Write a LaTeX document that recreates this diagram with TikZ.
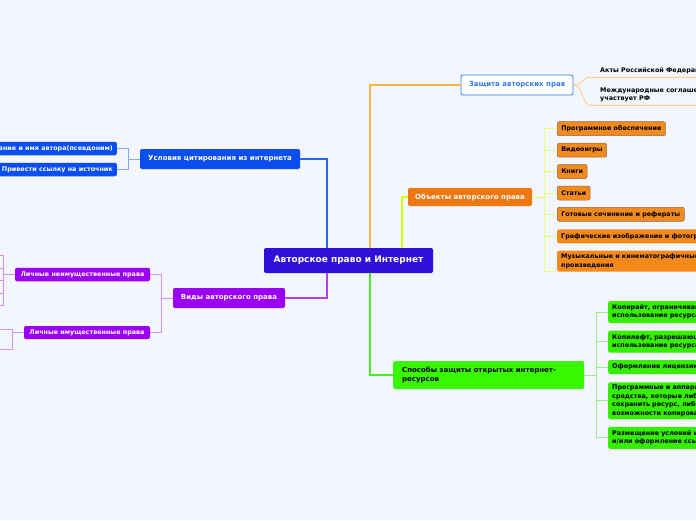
\documentclass[tikz,border=0pt]{standalone}
\usepackage{fontspec}
\setmainfont{DejaVu Sans}

\definecolor{bgc}{HTML}{F3F6FE}
\definecolor{rootc}{HTML}{3010D8}
\definecolor{bluec}{HTML}{0B4EEF}
\definecolor{blueln}{HTML}{2A66F5}
\definecolor{bluelt}{HTML}{8AA8F8}
\definecolor{protc}{HTML}{2F7BEA}
\definecolor{orln}{HTML}{FFB347}
\definecolor{orlt}{HTML}{FFCF8A}
\definecolor{objc}{HTML}{EE7711}
\definecolor{objlf}{HTML}{F28A1E}
\definecolor{objbd}{HTML}{8C6A48}
\definecolor{ygln}{HTML}{D4FF00}
\definecolor{yglt}{HTML}{E6FF77}
\definecolor{grln}{HTML}{44EE22}
\definecolor{grlt}{HTML}{99F088}
\definecolor{spc}{HTML}{38F800}
\definecolor{splf}{HTML}{35EE00}
\definecolor{purc}{HTML}{9A00F2}
\definecolor{purln}{HTML}{B040F0}
\definecolor{purlt}{HTML}{D090FF}

\begin{document}
\begin{tikzpicture}[x=1pt, y=-1pt,
  txt/.style={font=\bfseries\fontsize{6.4}{8.4}\selectfont},
  big/.style={font=\bfseries\fontsize{7}{8.6}\selectfont},
  topic/.style={big, rounded corners=2pt, inner sep=0pt},
  leaf/.style={txt, rounded corners=2pt, anchor=west, inner xsep=4pt, inner ysep=0pt,
    minimum height=14pt, align=left},
  trunk/.style={line width=1.8pt},
  twig/.style={line width=0.9pt}]
\useasboundingbox (0,0) rectangle (696,520);
\fill[bgc] (0,0) rectangle (696,520);
\clip (0,0) rectangle (696,520);

\node[topic, fill=rootc, text=white, font=\bfseries\fontsize{9}{10}\selectfont,
  minimum width=169pt, minimum height=25pt] (root) at (348.5,260.5) {Авторское право и Интернет};

% citing
\node[topic, fill=bluec, text=white, minimum width=160pt, minimum height=20pt] (cite) at (220,159) {Условия цитирования из интернета};
\node[leaf, anchor=east, fill=bluec, text=white, minimum height=13.5pt] (cite1) at (117,148.5) {Название и имя автора(псевдоним)};
\node[leaf, anchor=east, fill=bluec, text=white, minimum height=13.5pt] (cite2) at (117,169.5) {Привести ссылку на источник};

% protection
\node[topic, fill=white, draw=protc, line width=0.8pt, text=protc, minimum width=112pt, minimum height=20pt] (prot) at (517,85) {Защита авторских прав};
\node[txt, anchor=west, inner xsep=10pt, inner ysep=3pt] (act) at (590,71) {Акты Российской Федерации};
\node[txt, anchor=west, inner xsep=10pt, inner ysep=3pt, align=left] (intl) at (590,95) {Международные соглашения, в которых\\участвует РФ};

% objects
\node[topic, fill=objc, text=white, minimum width=124pt, minimum height=18pt] (obj) at (470,197) {Объекты авторского права};
\node[leaf, fill=objlf, draw=objbd, line width=0.5pt] (o1) at (557,128.7) {Программное обеспечение};
\node[leaf, fill=objlf, draw=objbd, line width=0.5pt] (o2) at (557,150.2) {Видеоигры};
\node[leaf, fill=objlf, draw=objbd, line width=0.5pt] (o3) at (557,171.5) {Книги};
\node[leaf, fill=objlf, draw=objbd, line width=0.5pt] (o4) at (557,193) {Статьи};
\node[leaf, fill=objlf, draw=objbd, line width=0.5pt] (o5) at (557,214.3) {Готовые сочинение и рефераты};
\node[leaf, fill=objlf!90!orange, text width=200pt] (o6) at (557,236.3) {Графические изображение и фотографии};
\node[leaf, fill=objlf!90!orange, text width=200pt, minimum height=21pt] (o7) at (557,261.2) {Музыкальные и кинематографичные\\произведения};

% ways
\node[topic, fill=spc, anchor=west, inner xsep=9pt, text width=173pt, align=left, minimum height=28pt] (sp) at (393,375) {Способы защиты открытых интернет-\\ресурсов};
\node[leaf, fill=splf, text width=200pt, minimum height=22pt] (s1) at (608,312) {Копирайт, ограничивающий\\использование ресурса};
\node[leaf, fill=splf, text width=200pt, minimum height=22pt] (s2) at (608,341.7) {Копилефт, разрешающий\\использование ресурса};
\node[leaf, fill=splf, text width=200pt] (s3) at (608,367) {Оформление лицензии};
\node[leaf, fill=splf, text width=200pt, minimum height=37pt] (s4) at (608,400.8) {Программные и аппаратные\\средства, которые либо не позволяют\\сохранить ресурс, либо лишают\\возможности копирования};
\node[leaf, fill=splf, text width=200pt, minimum height=22pt] (s5) at (608,437.8) {Размещение условий использования\\и/или оформление ссылки};

% kinds
\node[topic, fill=purc, text=white, minimum width=112pt, minimum height=20pt] (vidy) at (229,298) {Виды авторского права};
\node[topic, txt, fill=purc, text=white, minimum width=135pt, minimum height=13.5pt] (neim) at (82.5,274.5) {Личные неимущественные права};
\node[topic, txt, fill=purc, text=white, minimum width=126pt, minimum height=13pt] (imus) at (87,332.5) {Личные имущественные права};
\foreach \k/\y in {1/255,2/268,3/280,4/293,5/305}
  \coordinate (n\k) at (-2,\y);
\coordinate (m1) at (-2,329);
\coordinate (m2) at (-2,349);

% trunk lines
\draw[trunk, blueln] (cite.east) -| ([xshift=-21.5pt]root.north);
\draw[trunk, orln] (prot.west) -| ([xshift=21.5pt]root.north);
\draw[trunk, ygln] (obj.west) -| ([xshift=53.5pt]root.north);
\draw[trunk, grln] (sp.west) -| ([xshift=21.5pt]root.south);
\draw[trunk, purln] (vidy.east) -| ([xshift=-21.5pt]root.south);

% twigs
\foreach \c in {cite1,cite2}
  \draw[twig, bluelt] (cite.west) -- ++(-11,0) |- (\c.east);
\draw[twig, orlt] (prot.east) .. controls +(10,0) and +(-8,0) .. (act.south west) -- (act.south east);
\draw[twig, orlt] (prot.east) .. controls +(10,0) and +(-8,0) .. (intl.south west) -- (intl.south east);
\foreach \c in {o1,o2,o3,o4,o5,o6}
  \draw[twig, yglt] (obj.east) -- ++(12,0) |- (\c.west);
\draw[twig, yglt] (obj.east) -- ++(12,0) |- (o7.south west);
\foreach \c in {s1,s2,s3,s4,s5}
  \draw[twig, grlt] (sp.east) -- ++(12,0) |- (\c.west);
\foreach \c in {neim,imus}
  \draw[twig, purlt] (vidy.west) -- ++(-11,0) |- (\c.east);
\foreach \k in {1,...,5}
  \draw[twig, purlt] (neim.west) -- ++(-11,0) |- (n\k);
\foreach \k in {1,2}
  \draw[twig, purlt] (imus.west) -- ++(-11,0) |- (m\k);
\end{tikzpicture}
\end{document}
